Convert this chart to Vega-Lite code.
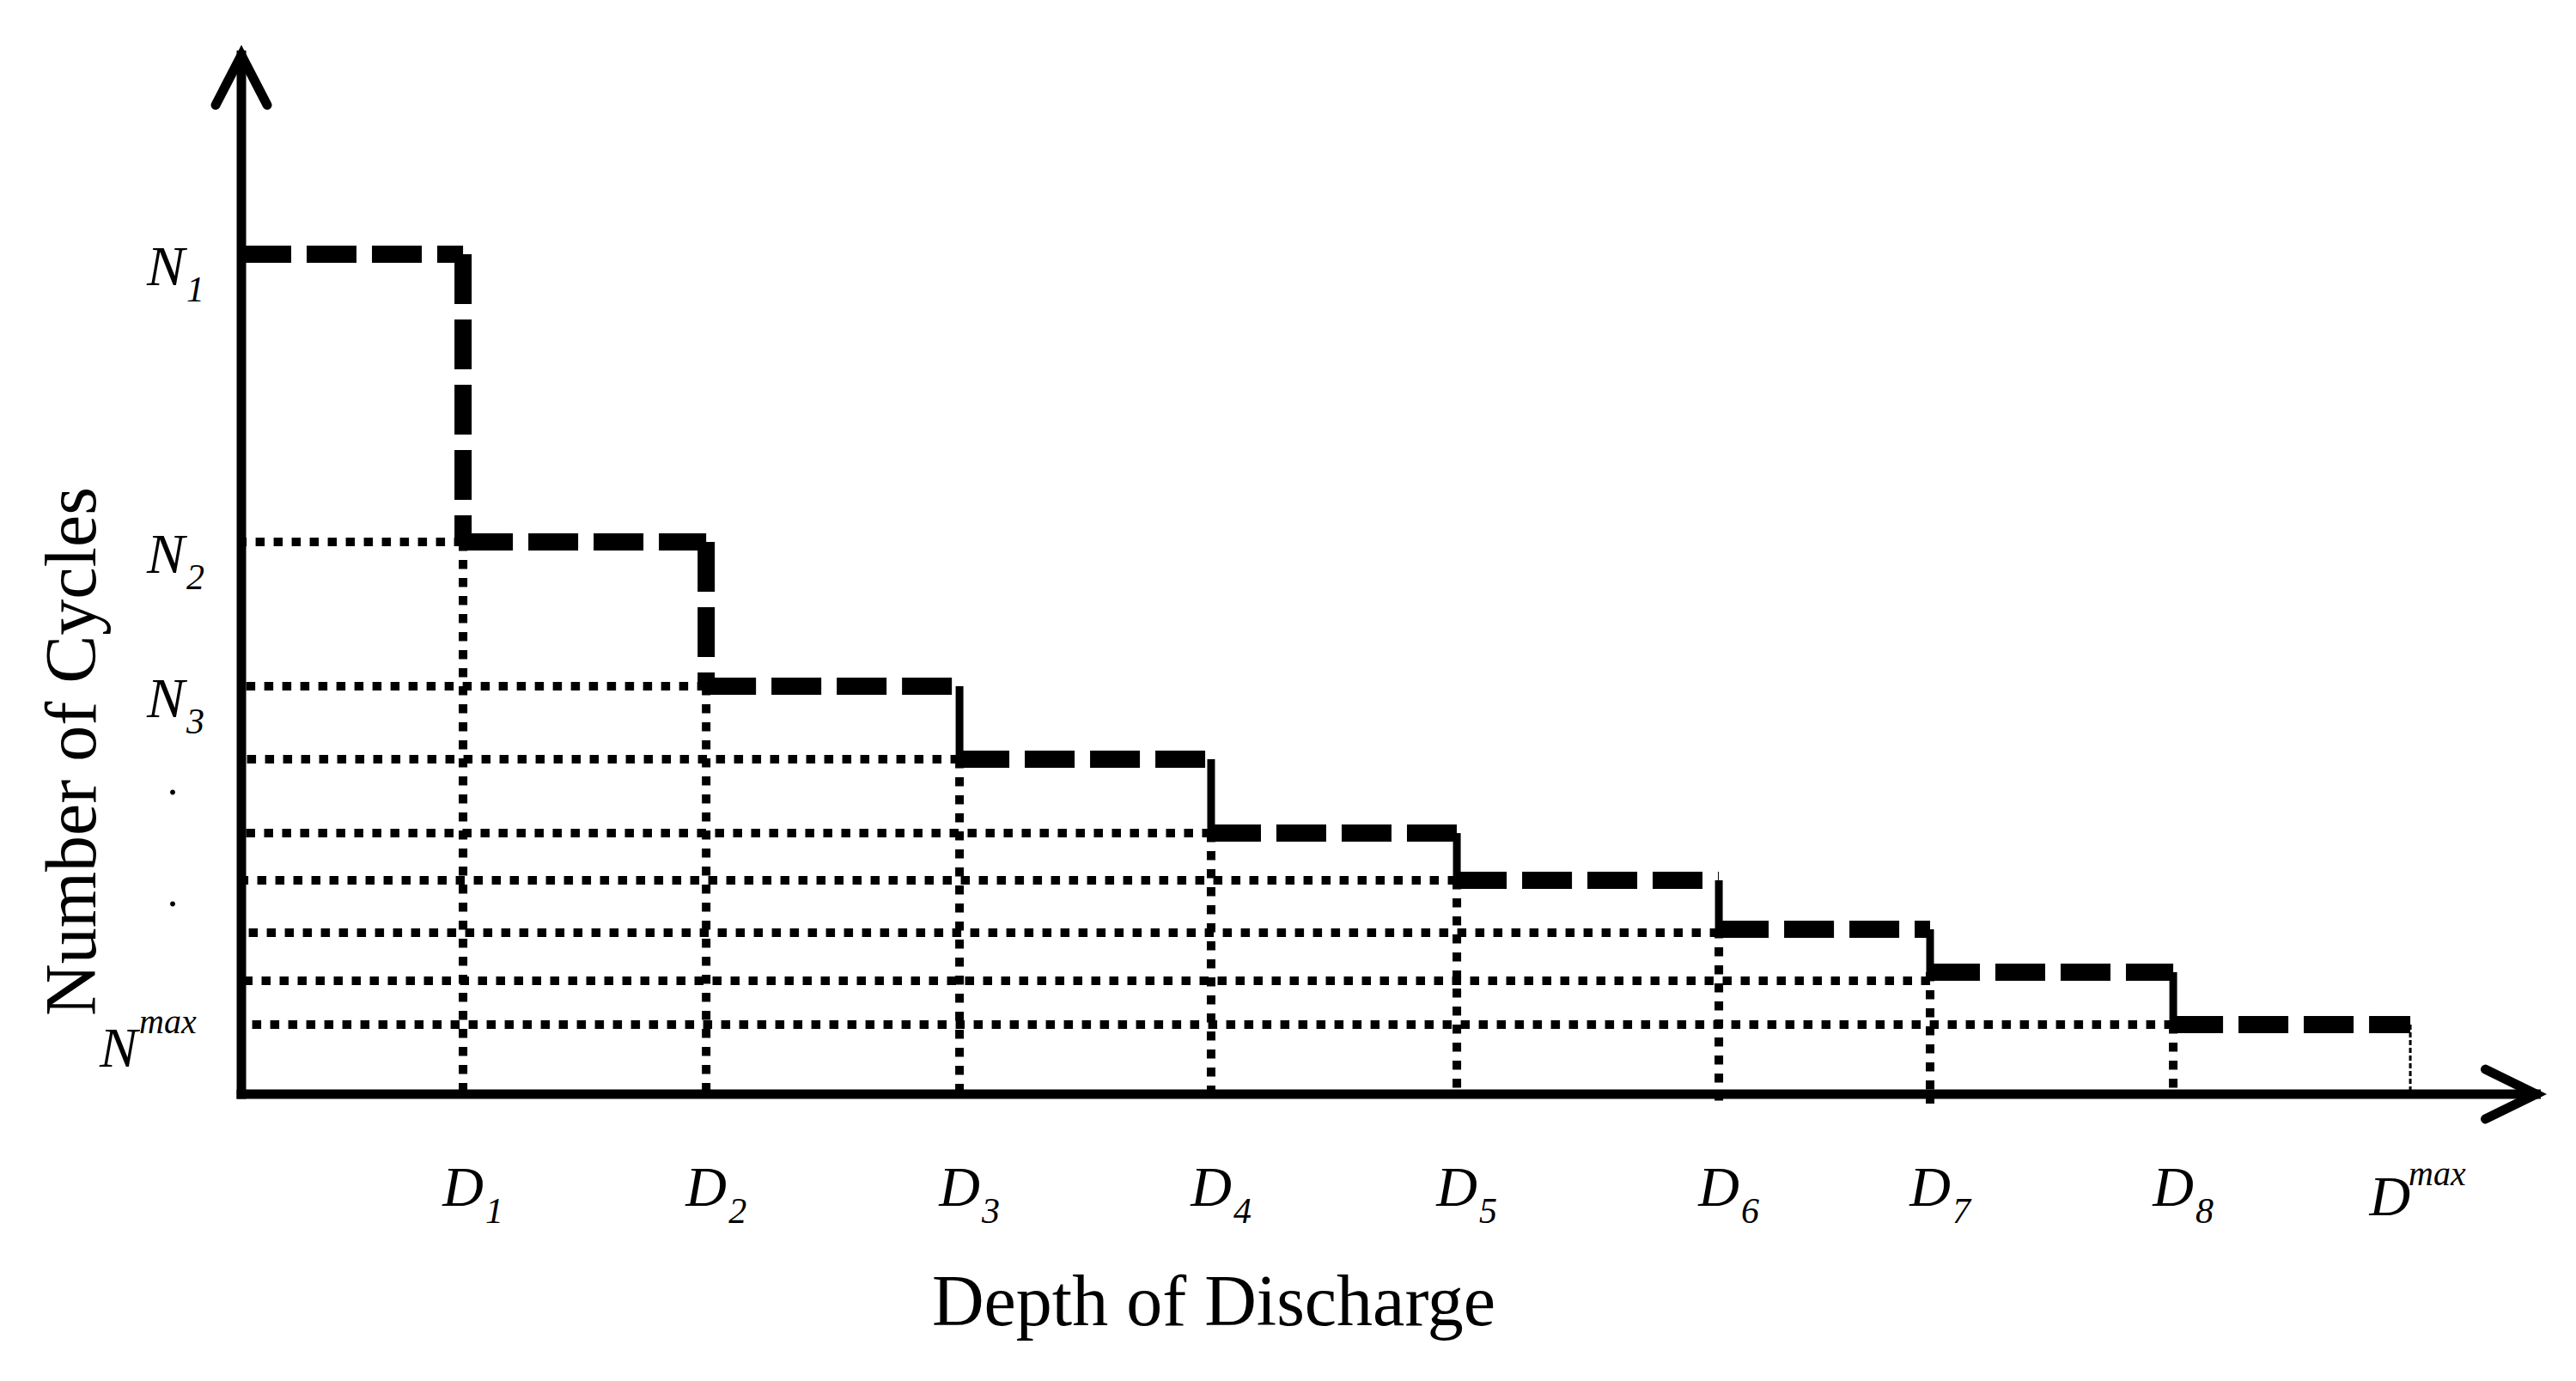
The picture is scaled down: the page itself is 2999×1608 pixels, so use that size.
{
  "$schema": "https://vega.github.io/schema/vega-lite/v6.json",
  "width": 2999,
  "height": 1608,
  "padding": 0,
  "autosize": {"type": "none"},
  "background": "white",
  "config": {"view": {"stroke": null}},
  "datasets": {
    "levels": [
      {"step": 1, "d0": 0, "d1": 10.22, "n": 100},
      {"step": 2, "d0": 10.22, "d1": 21.43, "n": 65.75},
      {"step": 3, "d0": 21.43, "d1": 33.11, "n": 48.57},
      {"step": 4, "d0": 33.11, "d1": 44.71, "n": 39.88},
      {"step": 5, "d0": 44.71, "d1": 56.04, "n": 31.08},
      {"step": 6, "d0": 56.04, "d1": 68.12, "n": 25.46},
      {"step": 7, "d0": 68.12, "d1": 77.86, "n": 19.63},
      {"step": 8, "d0": 77.86, "d1": 89.07, "n": 14.52},
      {"step": 9, "d0": 89.07, "d1": 100, "n": 8.28}
    ],
    "risers": [
      {"step": 1, "d": 10.22, "hi": 100, "lo": 65.75},
      {"step": 2, "d": 21.43, "hi": 65.75, "lo": 48.57},
      {"step": 3, "d": 33.11, "hi": 48.57, "lo": 39.88},
      {"step": 4, "d": 44.71, "hi": 39.88, "lo": 31.08},
      {"step": 5, "d": 56.04, "hi": 31.08, "lo": 25.46},
      {"step": 6, "d": 68.12, "hi": 25.46, "lo": 19.63},
      {"step": 7, "d": 77.86, "hi": 19.63, "lo": 14.52},
      {"step": 8, "d": 89.07, "hi": 14.52, "lo": 8.28}
    ],
    "ticks": [
      {"d": 10.22, "n": 65.75, "top": 65.75, "bottom": 0},
      {"d": 21.43, "n": 48.57, "top": 48.57, "bottom": 0},
      {"d": 33.11, "n": 39.88, "top": 39.88, "bottom": 0},
      {"d": 44.71, "n": 31.08, "top": 31.08, "bottom": 0},
      {"d": 56.04, "n": 25.46, "top": 25.46, "bottom": 0},
      {"d": 68.12, "n": 19.22, "top": 19.63, "bottom": -1.74},
      {"d": 77.86, "n": 13.5, "top": 14.52, "bottom": -1.12},
      {"d": 89.07, "n": 8.28, "top": 8.28, "bottom": 0}
    ],
    "dmax": [{"d": 100, "top": 8.28}],
    "axes": [
      {"name": "x", "x0": 0, "y0": 0, "x1": 105.8, "y1": 0},
      {"name": "y", "x0": 0, "y0": 0, "x1": 0, "y1": 123.7}
    ],
    "labels": [
      {"axis": "y", "pos": 100, "base": "N", "script": "1", "kind": "sub"},
      {"axis": "y", "pos": 65.75, "base": "N", "script": "2", "kind": "sub"},
      {"axis": "y", "pos": 48.57, "base": "N", "script": "3", "kind": "sub"},
      {"axis": "y", "pos": 36.0, "base": ".", "script": "", "kind": "dot"},
      {"axis": "y", "pos": 22.7, "base": ".", "script": "", "kind": "dot"},
      {"axis": "y", "pos": 8.28, "base": "N", "script": "max", "kind": "sup"},
      {"axis": "x", "pos": 10.22, "base": "D", "script": "1", "kind": "sub"},
      {"axis": "x", "pos": 21.43, "base": "D", "script": "2", "kind": "sub"},
      {"axis": "x", "pos": 33.11, "base": "D", "script": "3", "kind": "sub"},
      {"axis": "x", "pos": 44.71, "base": "D", "script": "4", "kind": "sub"},
      {"axis": "x", "pos": 56.04, "base": "D", "script": "5", "kind": "sub"},
      {"axis": "x", "pos": 68.12, "base": "D", "script": "6", "kind": "sub"},
      {"axis": "x", "pos": 77.86, "base": "D", "script": "7", "kind": "sub"},
      {"axis": "x", "pos": 89.07, "base": "D", "script": "8", "kind": "sub"},
      {"axis": "x", "pos": 100, "base": "D", "script": "max", "kind": "sup"}
    ],
    "titles": [
      {"role": "x", "text": "Depth of Discharge"},
      {"role": "y", "text": "Number of Cycles"}
    ]
  },
  "layer": [
    {
      "data": {"name": "ticks"},
      "mark": {"type": "rule", "color": "black", "strokeWidth": 10, "strokeDash": [10.5, 10.5]},
      "encoding": {
        "x": {"field": "d", "type": "quantitative", "scale": {"domain": [-11.13, 107.64], "nice": false, "zero": false}, "axis": null},
        "x2": {"datum": 0},
        "y": {"field": "n", "type": "quantitative", "scale": {"domain": [-34.15, 130.27], "nice": false, "zero": false}, "axis": null}
      }
    },
    {
      "data": {"name": "ticks"},
      "mark": {"type": "rule", "color": "black", "strokeWidth": 10, "strokeDash": [10.5, 10.5]},
      "encoding": {
        "x": {"field": "d", "type": "quantitative", "scale": {"domain": [-11.13, 107.64], "nice": false, "zero": false}, "axis": null},
        "y": {"field": "top", "type": "quantitative", "scale": {"domain": [-34.15, 130.27], "nice": false, "zero": false}, "axis": null},
        "y2": {"field": "bottom"}
      }
    },
    {
      "data": {"name": "dmax"},
      "mark": {"type": "rule", "color": "black", "strokeWidth": 3, "strokeDash": [6, 3]},
      "encoding": {
        "x": {"field": "d", "type": "quantitative", "scale": {"domain": [-11.13, 107.64], "nice": false, "zero": false}, "axis": null},
        "y": {"field": "top", "type": "quantitative", "scale": {"domain": [-34.15, 130.27], "nice": false, "zero": false}, "axis": null},
        "y2": {"datum": 0}
      }
    },
    {
      "data": {"name": "levels"},
      "mark": {"type": "rule", "color": "black", "strokeWidth": 20, "strokeDash": [58, 18]},
      "encoding": {
        "x": {"field": "d0", "type": "quantitative", "scale": {"domain": [-11.13, 107.64], "nice": false, "zero": false}, "axis": null},
        "x2": {"field": "d1"},
        "y": {"field": "n", "type": "quantitative", "scale": {"domain": [-34.15, 130.27], "nice": false, "zero": false}, "axis": null}
      }
    },
    {
      "data": {"name": "risers"},
      "transform": [{"filter": "datum.step <= 2"}],
      "mark": {"type": "rule", "color": "black", "strokeWidth": 20, "strokeDash": [58, 18]},
      "encoding": {
        "x": {"field": "d", "type": "quantitative", "scale": {"domain": [-11.13, 107.64], "nice": false, "zero": false}, "axis": null},
        "y": {"field": "hi", "type": "quantitative", "scale": {"domain": [-34.15, 130.27], "nice": false, "zero": false}, "axis": null},
        "y2": {"field": "lo"}
      }
    },
    {
      "data": {"name": "risers"},
      "transform": [{"filter": "datum.step > 2"}],
      "mark": {"type": "rule", "color": "black", "strokeWidth": 9},
      "encoding": {
        "x": {"field": "d", "type": "quantitative", "scale": {"domain": [-11.13, 107.64], "nice": false, "zero": false}, "axis": null},
        "y": {"field": "hi", "type": "quantitative", "scale": {"domain": [-34.15, 130.27], "nice": false, "zero": false}, "axis": null},
        "y2": {"field": "lo"}
      }
    },
    {
      "data": {"name": "axes"},
      "mark": {"type": "rule", "color": "black", "strokeWidth": 11, "strokeCap": "square"},
      "encoding": {
        "x": {"field": "x0", "type": "quantitative", "scale": {"domain": [-11.13, 107.64], "nice": false, "zero": false}, "axis": null},
        "x2": {"field": "x1"},
        "y": {"field": "y0", "type": "quantitative", "scale": {"domain": [-34.15, 130.27], "nice": false, "zero": false}, "axis": null},
        "y2": {"field": "y1"}
      }
    },
    {
      "data": {"name": "axes"},
      "transform": [{"filter": "datum.name == 'x'"}],
      "mark": {"type": "point", "shape": "M-1,-0.49L0,0L-1,0.49", "size": 13924, "filled": false, "stroke": "black", "strokeWidth": 11, "strokeCap": "round", "strokeJoin": "miter", "opacity": 1},
      "encoding": {
        "x": {"field": "x1", "type": "quantitative", "scale": {"domain": [-11.13, 107.64], "nice": false, "zero": false}, "axis": null},
        "y": {"field": "y1", "type": "quantitative", "scale": {"domain": [-34.15, 130.27], "nice": false, "zero": false}, "axis": null}
      }
    },
    {
      "data": {"name": "axes"},
      "transform": [{"filter": "datum.name == 'y'"}],
      "mark": {"type": "point", "shape": "M-0.517,1L0,0L0.517,1", "size": 13456, "filled": false, "stroke": "black", "strokeWidth": 11, "strokeCap": "round", "strokeJoin": "miter", "opacity": 1},
      "encoding": {
        "x": {"field": "x1", "type": "quantitative", "scale": {"domain": [-11.13, 107.64], "nice": false, "zero": false}, "axis": null},
        "y": {"field": "y1", "type": "quantitative", "scale": {"domain": [-34.15, 130.27], "nice": false, "zero": false}, "axis": null}
      }
    },
    {
      "data": {"name": "labels"},
      "transform": [{"filter": "datum.axis == 'y' && datum.kind == 'sub'"}],
      "mark": {"type": "text", "font": "Liberation Serif", "fontStyle": "italic", "fontSize": 66, "align": "right", "baseline": "alphabetic", "dx": -66, "dy": 36, "color": "black"},
      "encoding": {
        "x": {"datum": 0, "type": "quantitative", "scale": {"domain": [-11.13, 107.64], "nice": false, "zero": false}, "axis": null},
        "y": {"field": "pos", "type": "quantitative", "scale": {"domain": [-34.15, 130.27], "nice": false, "zero": false}, "axis": null},
        "text": {"field": "base"}
      }
    },
    {
      "data": {"name": "labels"},
      "transform": [{"filter": "datum.axis == 'y' && datum.kind == 'sub'"}],
      "mark": {"type": "text", "font": "Liberation Serif", "fontStyle": "italic", "fontSize": 42, "align": "left", "baseline": "alphabetic", "dx": -64, "dy": 55, "color": "black"},
      "encoding": {
        "x": {"datum": 0, "type": "quantitative", "scale": {"domain": [-11.13, 107.64], "nice": false, "zero": false}, "axis": null},
        "y": {"field": "pos", "type": "quantitative", "scale": {"domain": [-34.15, 130.27], "nice": false, "zero": false}, "axis": null},
        "text": {"field": "script"}
      }
    },
    {
      "data": {"name": "labels"},
      "transform": [{"filter": "datum.axis == 'y' && datum.kind == 'dot'"}],
      "mark": {"type": "text", "font": "Liberation Serif", "fontSize": 50, "align": "center", "baseline": "alphabetic", "dx": -80, "dy": 3, "color": "black"},
      "encoding": {
        "x": {"datum": 0, "type": "quantitative", "scale": {"domain": [-11.13, 107.64], "nice": false, "zero": false}, "axis": null},
        "y": {"field": "pos", "type": "quantitative", "scale": {"domain": [-34.15, 130.27], "nice": false, "zero": false}, "axis": null},
        "text": {"field": "base"}
      }
    },
    {
      "data": {"name": "labels"},
      "transform": [{"filter": "datum.axis == 'y' && datum.kind == 'sup'"}],
      "mark": {"type": "text", "font": "Liberation Serif", "fontStyle": "italic", "fontSize": 66, "align": "right", "baseline": "alphabetic", "dx": -121, "dy": 49, "color": "black"},
      "encoding": {
        "x": {"datum": 0, "type": "quantitative", "scale": {"domain": [-11.13, 107.64], "nice": false, "zero": false}, "axis": null},
        "y": {"field": "pos", "type": "quantitative", "scale": {"domain": [-34.15, 130.27], "nice": false, "zero": false}, "axis": null},
        "text": {"field": "base"}
      }
    },
    {
      "data": {"name": "labels"},
      "transform": [{"filter": "datum.axis == 'y' && datum.kind == 'sup'"}],
      "mark": {"type": "text", "font": "Liberation Serif", "fontStyle": "italic", "fontSize": 40, "align": "left", "baseline": "alphabetic", "dx": -119, "dy": 10, "color": "black"},
      "encoding": {
        "x": {"datum": 0, "type": "quantitative", "scale": {"domain": [-11.13, 107.64], "nice": false, "zero": false}, "axis": null},
        "y": {"field": "pos", "type": "quantitative", "scale": {"domain": [-34.15, 130.27], "nice": false, "zero": false}, "axis": null},
        "text": {"field": "script"}
      }
    },
    {
      "data": {"name": "labels"},
      "transform": [{"filter": "datum.axis == 'x' && datum.kind == 'sub'"}],
      "mark": {"type": "text", "font": "Liberation Serif", "fontStyle": "italic", "fontSize": 66, "align": "center", "baseline": "alphabetic", "dx": 0, "dy": 130, "color": "black"},
      "encoding": {
        "x": {"field": "pos", "type": "quantitative", "scale": {"domain": [-11.13, 107.64], "nice": false, "zero": false}, "axis": null},
        "y": {"datum": 0, "type": "quantitative", "scale": {"domain": [-34.15, 130.27], "nice": false, "zero": false}, "axis": null},
        "text": {"field": "base"}
      }
    },
    {
      "data": {"name": "labels"},
      "transform": [{"filter": "datum.axis == 'x' && datum.kind == 'sub'"}],
      "mark": {"type": "text", "font": "Liberation Serif", "fontStyle": "italic", "fontSize": 42, "align": "left", "baseline": "alphabetic", "dx": 26, "dy": 150, "color": "black"},
      "encoding": {
        "x": {"field": "pos", "type": "quantitative", "scale": {"domain": [-11.13, 107.64], "nice": false, "zero": false}, "axis": null},
        "y": {"datum": 0, "type": "quantitative", "scale": {"domain": [-34.15, 130.27], "nice": false, "zero": false}, "axis": null},
        "text": {"field": "script"}
      }
    },
    {
      "data": {"name": "labels"},
      "transform": [{"filter": "datum.axis == 'x' && datum.kind == 'sup'"}],
      "mark": {"type": "text", "font": "Liberation Serif", "fontStyle": "italic", "fontSize": 66, "align": "right", "baseline": "alphabetic", "dx": 0, "dy": 141, "color": "black"},
      "encoding": {
        "x": {"field": "pos", "type": "quantitative", "scale": {"domain": [-11.13, 107.64], "nice": false, "zero": false}, "axis": null},
        "y": {"datum": 0, "type": "quantitative", "scale": {"domain": [-34.15, 130.27], "nice": false, "zero": false}, "axis": null},
        "text": {"field": "base"}
      }
    },
    {
      "data": {"name": "labels"},
      "transform": [{"filter": "datum.axis == 'x' && datum.kind == 'sup'"}],
      "mark": {"type": "text", "font": "Liberation Serif", "fontStyle": "italic", "fontSize": 40, "align": "left", "baseline": "alphabetic", "dx": -2, "dy": 106, "color": "black"},
      "encoding": {
        "x": {"field": "pos", "type": "quantitative", "scale": {"domain": [-11.13, 107.64], "nice": false, "zero": false}, "axis": null},
        "y": {"datum": 0, "type": "quantitative", "scale": {"domain": [-34.15, 130.27], "nice": false, "zero": false}, "axis": null},
        "text": {"field": "script"}
      }
    },
    {
      "data": {"name": "titles"},
      "transform": [{"filter": "datum.role == 'x'"}],
      "mark": {"type": "text", "font": "Liberation Serif", "fontSize": 84, "align": "center", "baseline": "alphabetic", "color": "black"},
      "encoding": {
        "x": {"datum": 44.83, "type": "quantitative", "scale": {"domain": [-11.13, 107.64], "nice": false, "zero": false}, "axis": null},
        "y": {"datum": -27.5, "type": "quantitative", "scale": {"domain": [-34.15, 130.27], "nice": false, "zero": false}, "axis": null},
        "text": {"field": "text"}
      }
    },
    {
      "data": {"name": "titles"},
      "transform": [{"filter": "datum.role == 'y'"}],
      "mark": {"type": "text", "font": "Liberation Serif", "fontSize": 84, "align": "center", "baseline": "alphabetic", "angle": 270, "color": "black"},
      "encoding": {
        "x": {"datum": -6.73, "type": "quantitative", "scale": {"domain": [-11.13, 107.64], "nice": false, "zero": false}, "axis": null},
        "y": {"datum": 40.8, "type": "quantitative", "scale": {"domain": [-34.15, 130.27], "nice": false, "zero": false}, "axis": null},
        "text": {"field": "text"}
      }
    }
  ]
}
